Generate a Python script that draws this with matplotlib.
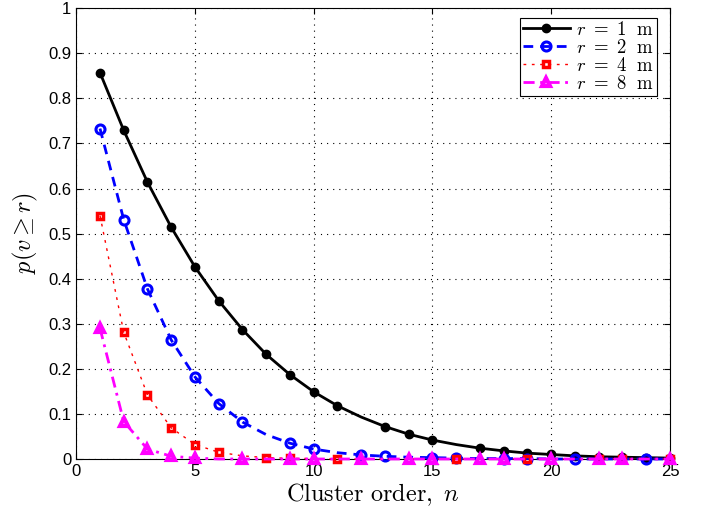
import numpy as np
import matplotlib
matplotlib.use("Agg")
import matplotlib.pyplot as plt

plt.rcParams['mathtext.fontset'] = 'cm'
plt.rcParams['font.family'] = ['Liberation Sans', 'DejaVu Sans']

# cluster order n = 1..25
n = list(range(1, 26))

# p(v >= r) for each radius
p_r1 = [0.857, 0.729, 0.614, 0.514, 0.426, 0.351, 0.287, 0.232, 0.187, 0.149,
        0.118, 0.093, 0.072, 0.055, 0.042, 0.032, 0.024, 0.018, 0.013, 0.010,
        0.007, 0.005, 0.004, 0.003, 0.002]
p_r2 = [0.733, 0.531, 0.377, 0.264, 0.182, 0.123, 0.082, 0.054, 0.035, 0.022,
        0.014, 0.009, 0.006, 0.004, 0.003, 0.002, 0.001, 0.001, 0.001, 0.0,
        0.0, 0.0, 0.0, 0.0, 0.0]
p_r4 = [0.540, 0.281, 0.142, 0.069, 0.032, 0.015, 0.007, 0.003, 0.0015, 0.001,
        0.0, 0.0, 0.0, 0.0, 0.0, 0.0, 0.0, 0.0, 0.0, 0.0,
        0.0, 0.0, 0.0, 0.0, 0.0]
p_r8 = [0.290, 0.083, 0.022, 0.006, 0.002, 0.0, 0.0, 0.0, 0.0, 0.0,
        0.0, 0.0, 0.0, 0.0, 0.0, 0.0, 0.0, 0.0, 0.0, 0.0,
        0.0, 0.0, 0.0, 0.0, 0.0]

# which n values carry a marker on each curve
mk_r1 = [1, 2, 3, 4, 5, 6, 7, 8, 9, 10, 11, 13, 14, 15, 17, 18, 19, 20, 21, 22, 23, 24, 25]
mk_r2 = [1, 2, 3, 4, 5, 6, 7, 9, 10, 12, 13, 15, 16, 18, 19, 21, 24]
mk_r4 = [1, 2, 3, 4, 5, 6, 8, 9, 11, 16, 19, 22, 23, 25]
mk_r8 = [1, 2, 3, 4, 5, 7, 9, 10, 12, 14, 15, 17, 18, 20, 22, 23, 25]

labels = [r'$r\ =\ 1\ \ \mathrm{m}$', r'$r\ =\ 2\ \ \mathrm{m}$',
          r'$r\ =\ 4\ \ \mathrm{m}$', r'$r\ =\ 8\ \ \mathrm{m}$']

def idx(marks):
    return [k - 1 for k in marks]

fig = plt.figure(figsize=(7.06, 5.14), dpi=100)
ax = fig.add_axes([0.108, 0.107, 0.841, 0.877])

ax.plot(n, p_r1, color='black', lw=2, ls='-', marker='o', ms=6,
        mfc='black', mec='black', markevery=idx(mk_r1), label=labels[0],
        clip_on=False, zorder=3)
ax.plot(n, p_r2, color='blue', lw=2, ls=(0, (3.5, 2.5)), marker='o', ms=6.5,
        mfc='none', mec='blue', mew=2.2, markevery=idx(mk_r2), label=labels[1],
        clip_on=False, zorder=4)
ax.plot(n, p_r4, color='red', lw=1, ls=(0, (2, 4)), marker='s', ms=4.2,
        mfc='none', mec='red', mew=2.5, markevery=idx(mk_r4), label=labels[2],
        clip_on=False, zorder=5)
ax.plot(n, p_r8, color='magenta', lw=2, ls=(0, (4, 2, 1, 2)), marker='^', ms=6,
        mfc='none', mec='magenta', mew=3, markevery=idx(mk_r8), label=labels[3],
        clip_on=False, zorder=6)

ax.set_xlim(0, 25)
ax.set_ylim(0, 1)
ax.set_xticks([0, 5, 10, 15, 20, 25])
ax.set_yticks(np.arange(0, 1.01, 0.1))
ax.set_yticklabels(['0', '0.1', '0.2', '0.3', '0.4', '0.5', '0.6', '0.7', '0.8', '0.9', '1'])
ax.tick_params(direction='in', labelsize=12, top=True, right=True, length=4)
ax.grid(True, color='black', ls=(0, (1, 4.5)), lw=0.8)

ax.set_xlabel(r'$\mathrm{Cluster\ order,}\ n$', fontsize=17.5, labelpad=2)
ax.set_ylabel(r'$p(v \geq r)$', fontsize=17.5, labelpad=6)

leg = ax.legend(loc='upper right', bbox_to_anchor=(0.978, 0.978), fontsize=13.5,
                frameon=True, fancybox=False, edgecolor='black', framealpha=1,
                borderpad=0.15, labelspacing=0.0, handlelength=2.55,
                handletextpad=0.3, borderaxespad=0)
leg.get_frame().set_linewidth(0.8)
leg.set_zorder(10)

fig.savefig('out.png', dpi=100)
